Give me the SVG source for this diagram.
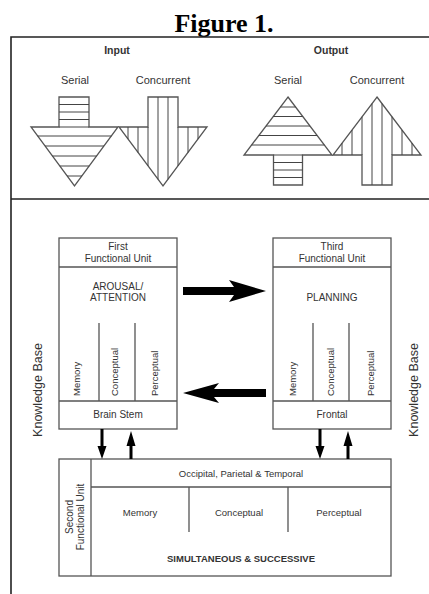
<svg xmlns="http://www.w3.org/2000/svg" width="429" height="594" viewBox="0 0 429 594">
<style>
text{font-family:"Liberation Sans",Arial,sans-serif;fill:#333}
.t10{font-size:10px}
.t95{font-size:9.5px}
.b{font-weight:bold}
.box{fill:#fff;stroke:#555;stroke-width:1.3}
.ln{stroke:#555;stroke-width:1.3;fill:none}
.h{stroke:#444;stroke-width:1;fill:none}
.arr{fill:#000;stroke:none}
.frame{stroke:#222;stroke-width:1.6;fill:none}
</style>
<rect width="429" height="594" fill="#fff"/>
<text x="224" y="32" text-anchor="middle" style="font-family:'Liberation Serif','Times New Roman',serif;font-size:26px;font-weight:bold;fill:#000">Figure 1.</text>
<g id="frame">
<path class="frame" d="M440,37 H11 V600 M11,199 H440"/>
</g>
<g id="input">
<text x="117" y="54" text-anchor="middle" class="b" style="font-size:10.5px">Input</text>
<text x="75" y="84" text-anchor="middle" style="font-size:11px">Serial</text>
<text x="163" y="84" text-anchor="middle" style="font-size:11px">Concurrent</text>
<g id="input-serial">
<polygon class="ln" points="59,97 89,97 89,127 118,127 74.5,186 31,127 59,127"/>
<path class="h" d="M59,104.5H89M59,112H89M59,119.5H89M59,127H89M37.6,136H111.4M45,146H104M52.4,156H96.6M59.8,166H89.2M67.1,176H81.9"/>
</g>
<g id="input-concurrent">
<polygon class="ln" points="148,97 178,97 178,127 207,127 163,186 119,127 148,127"/>
<path class="h" d="M128,127V139.1M138,127V152.5M148,127V165.9M158,97V179.3M168,97V179.3M178,127V165.9M188,127V152.5M198,127V139.1"/>
</g>
</g>
<g id="output">
<text x="331" y="54" text-anchor="middle" class="b" style="font-size:10.5px">Output</text>
<text x="288" y="84" text-anchor="middle" style="font-size:11px">Serial</text>
<text x="377" y="84" text-anchor="middle" style="font-size:11px">Concurrent</text>
<g id="output-serial">
<polygon class="ln" points="288,97 332,155 302.5,155 302.5,185 273.5,185 273.5,155 244,155"/>
<path class="h" d="M280.4,107H295.6M273.2,116.5H302.8M266,126H310M258.8,135.5H317.2M251.6,145H324.4M273.5,155H302.5M273.5,162.5H302.5M273.5,170H302.5M273.5,177.5H302.5"/>
</g>
<g id="output-concurrent">
<polygon class="ln" points="377,97 421,155 392,155 392,185 362,185 362,155 333,155"/>
<path class="h" d="M342,143.1V155M352,130V155M362,116.8V155M372,103.6V185M382,103.6V185M392,116.8V155M402,130V155M412,143.1V155"/>
</g>
</g>
<g id="knowledge-left"><text class="t10" style="font-size:12.5px" text-anchor="middle" transform="translate(42,390) rotate(-90)">Knowledge Base</text></g>
<g id="knowledge-right"><text style="font-size:12.5px" text-anchor="middle" transform="translate(418,390) rotate(-90)">Knowledge Base</text></g>
<g id="first-unit">
<rect class="box" x="59" y="238" width="118" height="191"/>
<path class="ln" d="M59,267H177M59,401H177M99,323V401M135,323V401"/>
<text class="t10" x="118" y="250" text-anchor="middle">First</text>
<text class="t10" x="118" y="262" text-anchor="middle">Functional Unit</text>
<text class="t10" x="118" y="290" text-anchor="middle">AROUSAL/</text>
<text class="t10" x="118" y="301" text-anchor="middle">ATTENTION</text>
<text class="t95" transform="translate(80,396) rotate(-90)">Memory</text>
<text class="t95" transform="translate(118,396) rotate(-90)">Conceptual</text>
<text class="t95" transform="translate(157.5,396) rotate(-90)">Perceptual</text>
<text class="t10" x="118" y="418" text-anchor="middle">Brain Stem</text>
</g>
<g id="third-unit">
<rect class="box" x="273" y="238" width="118" height="191"/>
<path class="ln" d="M273,267H391M273,401H391M313,323V401M349,323V401"/>
<text class="t10" x="332" y="250" text-anchor="middle">Third</text>
<text class="t10" x="332" y="262" text-anchor="middle">Functional Unit</text>
<text class="t10" x="332" y="301" text-anchor="middle">PLANNING</text>
<text class="t95" transform="translate(296,396) rotate(-90)">Memory</text>
<text class="t95" transform="translate(334,396) rotate(-90)">Conceptual</text>
<text class="t95" transform="translate(373.5,396) rotate(-90)">Perceptual</text>
<text class="t10" x="332" y="418" text-anchor="middle">Frontal</text>
</g>
<g id="second-unit">
<rect class="box" x="59" y="459" width="332" height="117"/>
<path class="ln" d="M91,459V576M91,487H391M189,487V532M288,487V532"/>
<text class="t10" text-anchor="middle" transform="translate(73,517) rotate(-90)">Second</text>
<text class="t10" text-anchor="middle" transform="translate(84,517) rotate(-90)">Functional Unit</text>
<text class="t95" x="241" y="476.5" text-anchor="middle">Occipital, Parietal &amp; Temporal</text>
<text class="t95" x="140" y="516" text-anchor="middle">Memory</text>
<text class="t95" x="239" y="516" text-anchor="middle">Conceptual</text>
<text class="t95" x="339" y="516" text-anchor="middle">Perceptual</text>
<text class="t95 b" x="241" y="562" text-anchor="middle">SIMULTANEOUS &amp; SUCCESSIVE</text>
</g>
<g id="connectors">
<path class="arr" d="M183,287 L234,287 L229,280 L266,291 L229,302 L234,295 L183,295 Z"/>
<path class="arr" d="M183,393 L219,383 L214,389 L266,389 L266,397 L214,397 L219,403 Z"/>
<path class="arr" d="M100.5,429 H103.5 V446 H106.5 L102,459 L97.5,446 H100.5 Z"/>
<path class="arr" d="M131,431 L135.5,446 H132.5 V459 H129.5 V446 H126.5 Z"/>
<path class="arr" d="M318.5,429 H321.5 V446 H324.5 L320,459 L315.5,446 H318.5 Z"/>
<path class="arr" d="M348,431 L352.5,446 H349.5 V459 H346.5 V446 H343.5 Z"/>
</g>
</svg>
